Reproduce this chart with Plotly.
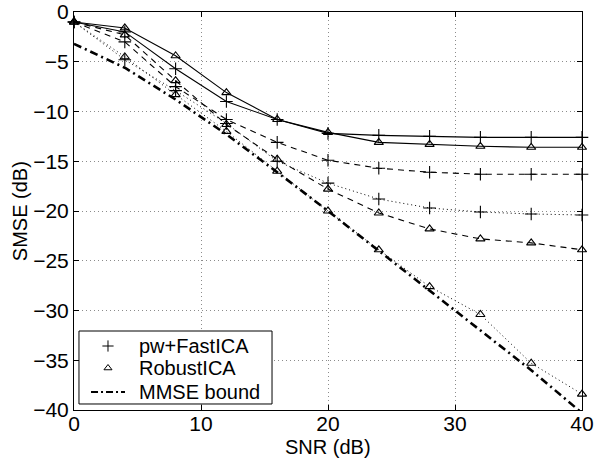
import plotly.graph_objects as go

snr = [0, 4, 8, 12, 16, 20, 24, 28, 32, 36, 40]

pw_solid = [-1.0, -2.0, -5.7, -9.0, -10.8, -12.2, -12.4, -12.5, -12.6, -12.6, -12.6]
rob_solid = [-1.0, -1.6, -4.4, -8.1, -10.8, -12.1, -13.1, -13.3, -13.5, -13.6, -13.6]
pw_dash = [-1.0, -3.0, -7.5, -10.8, -13.1, -14.9, -15.7, -16.1, -16.3, -16.3, -16.3]
rob_dash = [-1.0, -2.3, -6.9, -11.3, -14.8, -17.8, -20.2, -21.8, -22.8, -23.2, -23.9]
pw_dot = [-1.0, -4.8, -7.9, -11.2, -15.0, -17.2, -18.8, -19.7, -20.1, -20.3, -20.4]
rob_dot = [-1.0, -4.5, -8.3, -12.0, -16.0, -20.0, -23.9, -27.6, -30.4, -35.3, -38.4]
mmse = [-3.2, -5.6, -8.8, -12.3, -16.1, -20.0, -24.0, -28.0, -32.0, -36.0, -40.3]

legend_names = ["pw+FastICA", "RobustICA", "MMSE bound"]
x_title = "SNR (dB)"
y_title = "SMSE (dB)"

FONT = "Liberation Sans, Arial, sans-serif"

fig = go.Figure()

def add(y, dash, sym, width=1.1):
    fig.add_trace(go.Scatter(
        x=snr, y=y, mode="lines+markers", showlegend=False, cliponaxis=False,
        line=dict(color="black", width=width, dash=dash),
        marker=dict(symbol=sym, size=9 if "cross" in sym else 8, color="black",
                    line=dict(color="black", width=1.1)),
    ))

add(pw_solid, "solid", "cross-thin")
add(rob_solid, "solid", "triangle-up-open")
add(pw_dash, "6px,5px", "cross-thin")
add(rob_dash, "6px,5px", "triangle-up-open")
add(pw_dot, "1px,3px", "cross-thin", 1.0)
add(rob_dot, "1px,3px", "triangle-up-open", 1.0)

fig.add_trace(go.Scatter(
    x=snr, y=mmse, mode="lines", showlegend=False,
    line=dict(color="black", width=2.6, dash="8px,4px,2px,4px"),
))

# ---- hand-built legend (on an invisible overlay axis spanning the plot area) ----
box_x0, box_x1, box_y0, box_y1 = 0.0098, 0.3898, 0.0151, 0.1985
sym_x = 0.0669
text_x = 0.124
row_y = [0.1608, 0.1055, 0.0452]
line_x = [0.0335, 0.1004]

fig.add_trace(go.Scatter(
    x=[box_x0, box_x1, box_x1, box_x0, box_x0],
    y=[box_y0, box_y0, box_y1, box_y1, box_y0],
    xaxis="x2", yaxis="y2", mode="lines", fill="toself", fillcolor="white",
    line=dict(color="black", width=1), showlegend=False, hoverinfo="skip",
))
fig.add_trace(go.Scatter(
    x=[sym_x], y=[row_y[0]], xaxis="x2", yaxis="y2", mode="markers",
    marker=dict(symbol="cross-thin", size=8, line=dict(color="black", width=1)),
    showlegend=False, hoverinfo="skip",
))
fig.add_trace(go.Scatter(
    x=[sym_x], y=[row_y[1]], xaxis="x2", yaxis="y2", mode="markers",
    marker=dict(symbol="triangle-up-open", size=7, color="black",
                line=dict(color="black", width=1)),
    showlegend=False, hoverinfo="skip",
))
fig.add_trace(go.Scatter(
    x=line_x, y=[row_y[2], row_y[2]], xaxis="x2", yaxis="y2", mode="lines",
    line=dict(color="black", width=2.2, dash="7px,3px,2px,3px"),
    showlegend=False, hoverinfo="skip",
))
for name, yy in zip(legend_names, row_y):
    fig.add_annotation(x=text_x, y=yy, xref="paper", yref="paper", text=name,
                       showarrow=False, xanchor="left", yanchor="middle",
                       font=dict(family=FONT, size=20, color="black"))

# axis titles
fig.add_annotation(x=0.5, y=-0.092, xref="paper", yref="paper", text=x_title,
                   showarrow=False, xanchor="center", yanchor="middle",
                   font=dict(family=FONT, size=20, color="black"))
fig.add_annotation(x=-0.106, y=0.5, xref="paper", yref="paper", text=y_title,
                   showarrow=False, xanchor="center", yanchor="middle", textangle=-90,
                   font=dict(family=FONT, size=20, color="black"))

axis_common = dict(
    showline=True, linecolor="black", linewidth=1, mirror="ticks",
    ticks="inside", ticklen=5, tickcolor="black",
    showgrid=True, gridcolor="#8c8c8c", griddash="1px,3px", gridwidth=1,
    zeroline=False, automargin=False,
    tickfont=dict(family=FONT, size=21, color="black"),
)

fig.update_layout(
    width=594, height=460,
    margin=dict(l=74, r=12, t=12, b=50),
    plot_bgcolor="white", paper_bgcolor="white",
    showlegend=False,
    xaxis=dict(range=[0, 40], tickvals=[0, 10, 20, 30, 40], ticklabelstandoff=-5,
               **axis_common),
    yaxis=dict(range=[-40, 0], tickvals=[0, -5, -10, -15, -20, -25, -30, -35, -40],
               **axis_common),
    xaxis2=dict(range=[0, 1], overlaying="x", visible=False, fixedrange=True),
    yaxis2=dict(range=[0, 1], overlaying="y", visible=False, fixedrange=True),
)

fig.write_html("out.html", post_script="document.body.style.margin='0';",
               config={"displayModeBar": False})
